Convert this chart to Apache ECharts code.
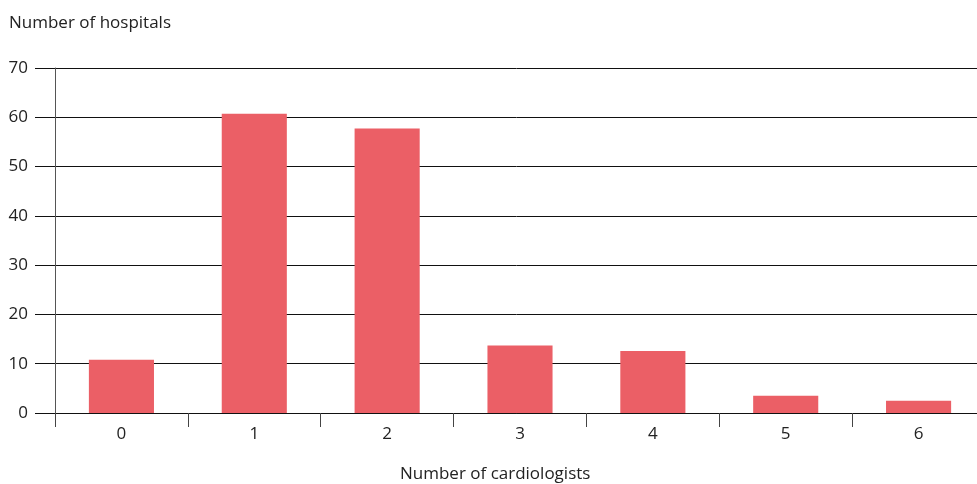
<!DOCTYPE html>
<html>
<head>
<meta charset="utf-8">
<script src="https://cdn.jsdelivr.net/npm/echarts@6/dist/echarts.min.js"></script>
<style>
  html, body { margin: 0; padding: 0; background: #fff; }
  #main { width: 977px; height: 484px; }
</style>
</head>
<body>
<div id="main"></div>
<script>
var categories = ['0', '1', '2', '3', '4', '5', '6'];
var hospitals = [10.8, 60.7, 57.7, 13.7, 12.6, 3.5, 2.5];
var yTicks = [0, 10, 20, 30, 40, 50, 60, 70];

var init = function(){
	var myChart = echarts.init(document.getElementById('main'));
	var font = '"Open Sans", "Noto Sans", sans-serif';
	var option = {
		animation: false,
		textStyle: { fontFamily: font },
		title: {
			text: 'Number of hospitals',
			left: 4,
			top: 10,
			textStyle: { fontFamily: font, fontSize: 17, fontWeight: 'normal', color: '#222' }
		},
		graphic: [
			{
				type: 'text',
				left: 400,
				top: 466,
				style: { text: 'Number of cardiologists', font: '17px "Open Sans", sans-serif', fill: '#222' }
			}
		],
		grid: { left: 55, width: 930, top: 68, height: 345, containLabel: false, outerBoundsMode: 'none' },
		xAxis: {
			type: 'category',
			data: categories,
			axisLine: { lineStyle: { color: '#111', width: 1 } },
			axisTick: { show: true, length: 14, alignWithLabel: false, lineStyle: { color: '#444' } },
			axisLabel: { margin: 13, fontSize: 17, color: '#222', fontFamily: font }
		},
		yAxis: {
			type: 'value',
			min: yTicks[0],
			max: yTicks[yTicks.length - 1],
			interval: 10,
			axisLine: { show: true, lineStyle: { color: '#555', width: 1 } },
			axisTick: { show: true, length: 20, lineStyle: { color: '#111' } },
			axisLabel: { margin: 27, fontSize: 17, color: '#222', fontFamily: font },
			splitLine: { show: true, lineStyle: { color: '#111', width: 1 } }
		},
		series: [
			{
				type: 'bar',
				data: hospitals,
				barWidth: '49%',
				itemStyle: { color: '#eb5f66' }
			}
		]
	};
	myChart.setOption(option);
};

init();
</script>
</body>
</html>
